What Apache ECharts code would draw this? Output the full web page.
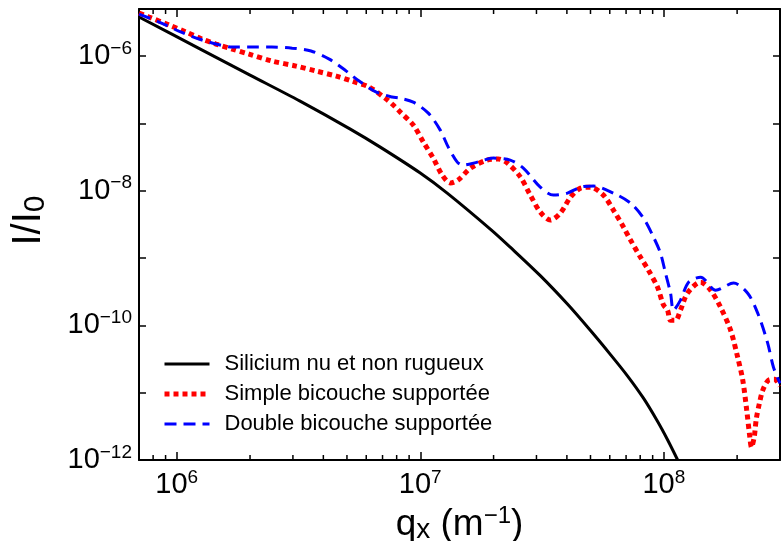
<!DOCTYPE html>
<html>
<head>
<meta charset="utf-8">
<script src="https://cdn.jsdelivr.net/npm/echarts@6/dist/echarts.min.js"></script>
<style>
html, body { margin: 0; padding: 0; background: #fff; }
#chart { width: 781px; height: 541px; }
</style>
</head>
<body>
<div id="chart"></div>
<script>
// values (q in m^-1, I/I0)
const qBlack = [7.0e5, 1.25e6, 2.0e6, 3.21e6, 5.16e6, 6.85e6, 1.0e7, 1.29e7, 1.96e7, 2.34e7, 3.11e7, 4.02e7, 5.0e7, 6.04e7, 7.09e7, 8.25e7, 9.42e7, 1.036e8, 1.14e8];
const iBlack = [3.8e-6, 1.27e-6, 5.22e-7, 2.14e-7, 8.22e-8, 4.44e-8, 1.83e-8, 9.2e-9, 2.60e-9, 1.45e-9, 5.47e-10, 2.07e-10, 8.37e-11, 3.68e-11, 1.78e-11, 8.28e-12, 3.76e-12, 2.0e-12, 1.0e-12];

const qRed = [7.0e5, 7.69e5, 9.3e5, 1.09e6, 1.27e6, 1.45e6, 1.69e6, 1.98e6, 2.46e6, 3.09e6,
    3.74e6, 4.52e6, 5.25e6, 6.17e6, 7.25e6, 7.82e6, 8.28e6, 9.36e6, 1.03e7, 1.13e7,
    1.23e7, 1.33e7, 1.43e7, 1.61e7, 1.88e7, 2.09e7, 2.28e7, 2.58e7, 2.83e7, 3.11e7,
    3.42e7, 3.76e7, 4.14e7, 4.55e7, 5.0e7, 5.65e7, 6.21e7, 6.83e7, 7.30e7, 8.02e7,
    8.65e7, 9.42e7, 9.97e7, 1.036e8, 1.065e8, 1.117e8, 1.171e8, 1.25e8, 1.416e8, 1.556e8,
    1.71e8, 1.88e8, 2.01e8, 2.11e8, 2.19e8, 2.25e8, 2.29e8, 2.35e8, 2.40e8, 2.47e8,
    2.55e8, 2.69e8, 2.85e8, 3.0e8];
const iRed = [4.36e-6, 3.80e-6, 2.89e-6, 2.28e-6, 1.79e-6, 1.51e-6, 1.27e-6, 1.07e-6, 8.43e-7, 7.10e-7,
    5.98e-7, 5.04e-7, 4.25e-7, 3.46e-7, 2.30e-7, 1.81e-7, 1.47e-7, 9.44e-8, 5.27e-8, 3.05e-8,
    1.71e-8, 1.30e-8, 1.44e-8, 2.17e-8, 2.85e-8, 2.95e-8, 2.57e-8, 1.59e-8, 8.6e-9, 4.81e-9,
    3.66e-9, 4.65e-9, 8.03e-9, 1.09e-8, 1.13e-8, 8.6e-9, 5.15e-9, 2.88e-9, 1.85e-9, 1.03e-9,
    6.6e-10, 3.70e-10, 2.0e-10, 1.68e-10, 1.19e-10, 1.19e-10, 1.68e-10, 3.0e-10, 4.38e-10, 3.33e-10,
    1.86e-10, 8.5e-11, 3.37e-11, 1.53e-11, 5.5e-12, 2.35e-12, 1.55e-12, 2.18e-12, 4.18e-12, 6.98e-12,
    1.09e-11, 1.53e-11, 1.58e-11, 1.25e-11];

const qBlue = [7.0e5, 8.46e5, 1.02e6, 1.235e6, 1.45e6, 1.69e6, 2.04e6, 2.46e6, 2.98e6, 3.56e6,
    4.23e6, 4.97e6, 5.61e6, 6.60e6, 7.67e6, 8.2e6, 9.36e6, 1.079e7, 1.208e7, 1.303e7,
    1.419e7, 1.502e7, 1.715e7, 1.995e7, 2.34e7, 2.65e7, 3.11e7, 3.52e7, 4.02e7, 4.55e7,
    5.14e7, 6.21e7, 7.30e7, 8.25e7, 9.07e7, 9.69e7, 1.016e8, 1.066e8, 1.096e8, 1.171e8,
    1.264e8, 1.416e8, 1.632e8, 1.934e8, 2.21e8, 2.43e8, 2.67e8, 2.82e8, 3.0e8];
const iBlue = [4.21e-6, 3.20e-6, 2.35e-6, 1.79e-6, 1.51e-6, 1.36e-6, 1.36e-6, 1.36e-6, 1.31e-6, 1.19e-6,
    9.02e-7, 5.98e-7, 4.25e-7, 2.92e-7, 2.46e-7, 2.38e-7, 2.07e-7, 1.42e-7, 7.94e-8, 4.44e-8,
    2.66e-8, 2.40e-8, 2.66e-8, 3.05e-8, 2.85e-8, 2.17e-8, 1.13e-8, 8.6e-9, 9.2e-9, 1.13e-8,
    1.17e-8, 9.2e-9, 6.55e-9, 3.92e-9, 2.05e-9, 1.18e-9, 5.97e-10, 3.0e-10, 1.68e-10, 2.37e-10,
    4.38e-10, 5.2e-10, 3.33e-10, 4.24e-10, 3.0e-10, 1.52e-10, 5.45e-11, 2.39e-11, 1.38e-11];

const seriesNames = ['Silicium nu et non rugueux', 'Simple bicouche supportée', 'Double bicouche supportée'];

// axis ranges and small log ticks between decades
const xMin = 7e5, xMax = 3e8;
const yMin = 1e-12, yMax = 5e-6;
const xMinorTicks = [8e5, 9e5, 2e6, 3e6, 4e6, 5e6, 6e6, 7e6, 8e6, 9e6,
    2e7, 3e7, 4e7, 5e7, 6e7, 7e7, 8e7, 9e7, 2e8];

const font = "'Liberation Sans', Arial, Helvetica, sans-serif";

const blackLine = { color: '#000', width: 3 };
const redLine = { color: '#ff0000', width: 5, type: [5, 4], cap: 'butt' };
const blueLine = { color: '#0000ff', width: 3, type: [12, 7], cap: 'butt' };

function zip(xs, ys) {
    return xs.map((x, i) => [x, ys[i]]);
}

function decade(v) {
    const l = Math.log10(v);
    const e = Math.round(l);
    return Math.abs(l - e) < 1e-6 ? e : null;
}

const tickRich = {
    b: { fontSize: 29, fontFamily: font, color: '#000', lineHeight: 34 },
    s: { fontSize: 19, fontFamily: font, color: '#000', lineHeight: 20, verticalAlign: 'top' }
};

const chart = echarts.init(document.getElementById('chart'), null, { renderer: 'canvas' });

const option = {
    animation: false,
    backgroundColor: '#fff',
    textStyle: { fontFamily: font },
    grid: { left: 139, right: 1, top: 9, bottom: 81, containLabel: false, outerBoundsMode: 'none' },
    legend: {
        orient: 'vertical',
        left: 157,
        top: 348,
        itemWidth: 45,
        itemHeight: 14,
        itemGap: 8,
        itemStyle: { opacity: 0 },
        data: [
            { name: seriesNames[0], lineStyle: blackLine },
            { name: seriesNames[1], lineStyle: redLine },
            { name: seriesNames[2], lineStyle: blueLine }
        ],
        textStyle: { fontSize: 22, fontFamily: font, color: '#000', lineHeight: 20, padding: [0, 0, 0, 10] }
    },
    xAxis: [
        {
            type: 'log',
            min: xMin,
            max: xMax,
            position: 'bottom',
            name: '{n|q}{sub|x}{n| (m}{sup|\u22121}{n|)}',
            nameLocation: 'middle',
            nameGap: 38,
            nameTextStyle: {
                rich: {
                    n: { fontSize: 37, fontFamily: font, color: '#000', lineHeight: 40 },
                    sub: { fontSize: 28, fontFamily: font, color: '#000', lineHeight: 14, verticalAlign: 'bottom' },
                    sup: { fontSize: 24, fontFamily: font, color: '#000', lineHeight: 24, verticalAlign: 'top' }
                }
            },
            splitLine: { show: false },
            axisLine: { lineStyle: { color: '#000', width: 2 } },
            axisTick: { inside: true, length: 8, lineStyle: { color: '#000', width: 1.5 } },
            axisLabel: {
                margin: 8,
                formatter: v => {
                    const e = decade(v);
                    return e === null ? '' : '{b|10}{s|' + e + '}';
                },
                rich: tickRich
            }
        },
        {
            type: 'log',
            min: xMin,
            max: xMax,
            position: 'top',
            splitLine: { show: false },
            axisLine: { lineStyle: { color: '#000', width: 2 } },
            axisTick: { inside: true, length: 8, lineStyle: { color: '#000', width: 1.5 } },
            axisLabel: { show: false }
        }
    ],
    yAxis: [
        {
            type: 'log',
            min: yMin,
            max: yMax,
            position: 'left',
            name: '{n|I/I}{sub|0}',
            nameLocation: 'middle',
            nameGap: 88,
            nameRotate: 90,
            nameTextStyle: {
                padding: [0, 0, 0, 28],
                rich: {
                    n: { fontSize: 40, fontFamily: font, color: '#000', lineHeight: 44 },
                    sub: { fontSize: 30, fontFamily: font, color: '#000', lineHeight: 30, verticalAlign: 'bottom' }
                }
            },
            splitLine: { show: false },
            axisLine: { lineStyle: { color: '#000', width: 2 } },
            axisTick: { inside: true, length: 7, lineStyle: { color: '#000', width: 1.5 } },
            axisLabel: {
                margin: 7,
                formatter: v => {
                    const e = decade(v);
                    if (e === null || e % 2 !== 0) return '';
                    return '{b|10}{s|\u2212' + (-e) + '}';
                },
                rich: tickRich
            }
        },
        {
            type: 'log',
            min: yMin,
            max: yMax,
            position: 'right',
            splitLine: { show: false },
            axisLine: { lineStyle: { color: '#000', width: 2 } },
            axisTick: { inside: true, length: 7, lineStyle: { color: '#000', width: 1.5 } },
            axisLabel: { show: false }
        }
    ],
    series: [
        {
            name: seriesNames[0],
            type: 'line',
            symbol: 'none',
            smooth: 0.3,
            data: zip(qBlack, iBlack),
            lineStyle: blackLine,
            itemStyle: { color: '#000' },
            z: 3
        },
        {
            name: seriesNames[1],
            type: 'line',
            symbol: 'none',
            smooth: 0.3,
            data: zip(qRed, iRed),
            lineStyle: redLine,
            itemStyle: { color: '#ff0000' },
            z: 4
        },
        {
            name: seriesNames[2],
            type: 'line',
            symbol: 'none',
            smooth: 0.3,
            data: zip(qBlue, iBlue),
            lineStyle: blueLine,
            itemStyle: { color: '#0000ff' },
            z: 5
        },
        {
            // short log ticks on the top and bottom frame
            type: 'custom',
            silent: true,
            data: xMinorTicks.map(v => [v, yMin]),
            renderItem(params, api) {
                const x = api.coord([api.value(0), yMin])[0];
                const cs = params.coordSys;
                const style = { stroke: '#000', lineWidth: 1.5 };
                return {
                    type: 'group',
                    children: [
                        { type: 'line', shape: { x1: x, y1: cs.y + cs.height, x2: x, y2: cs.y + cs.height - 5 }, style },
                        { type: 'line', shape: { x1: x, y1: cs.y, x2: x, y2: cs.y + 5 }, style }
                    ]
                };
            },
            z: 6
        }
    ]
};

chart.setOption(option);
</script>
</body>
</html>
